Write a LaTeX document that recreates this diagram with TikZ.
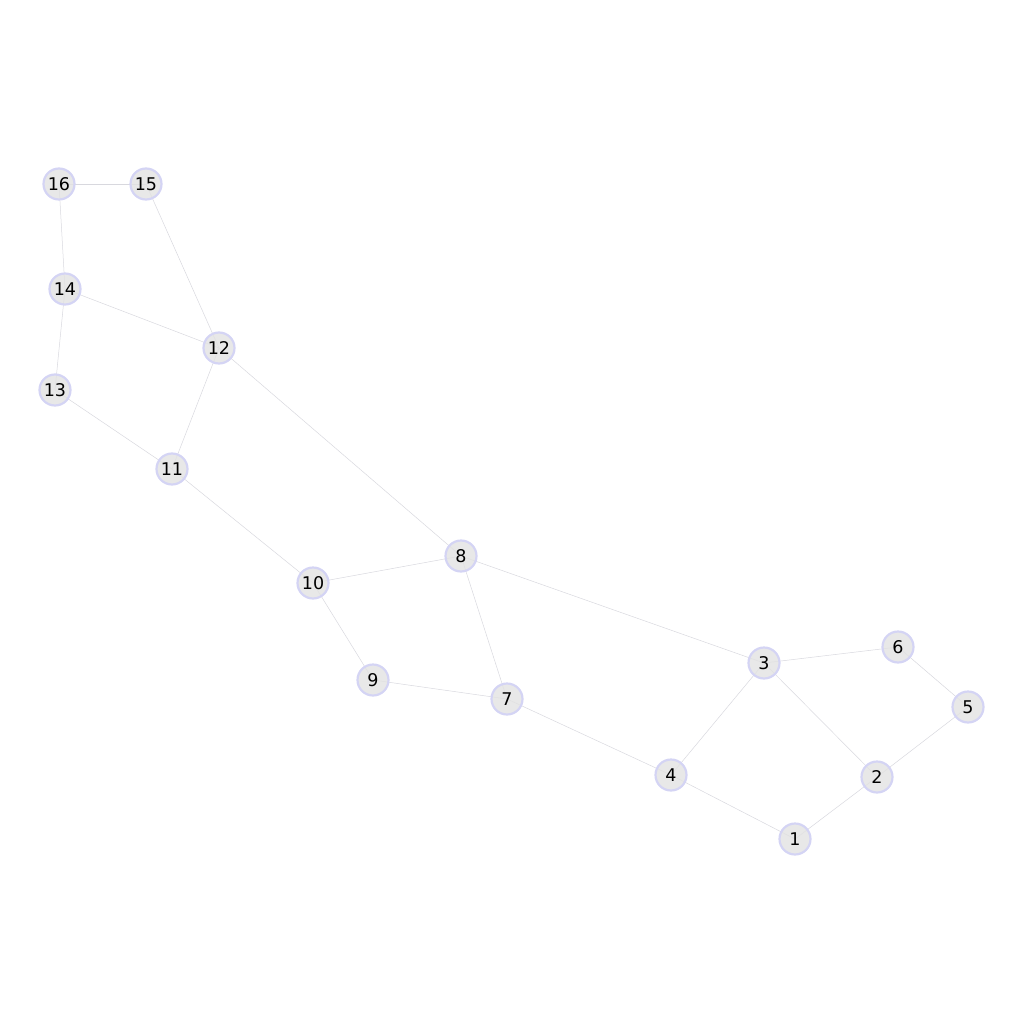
\documentclass[tikz,border=0pt]{standalone}
\usepackage{fontspec}
\setmainfont{DejaVu Sans}
\begin{document}
\begin{tikzpicture}[x=1pt,y=-1pt,
  vertex/.style={circle,minimum size=31pt,inner sep=0pt,fill=nodefill,fill opacity=0.8,text opacity=1,draw=nodeborder,line width=2.2pt,font=\fontsize{17.5}{17.5}\selectfont},
  link/.style={draw=edgecol,line width=0.5pt}]
\definecolor{nodefill}{HTML}{E2E2E2}
\definecolor{nodeborder}{HTML}{D4D4F4}
\definecolor{edgecol}{HTML}{D8D8DE}
\useasboundingbox (0,0) rectangle (1024,1024);
\coordinate (p1) at (795,839);
\coordinate (p2) at (877,777);
\coordinate (p3) at (764,663);
\coordinate (p4) at (671,775);
\coordinate (p5) at (968,707);
\coordinate (p6) at (898,647);
\coordinate (p7) at (507,699);
\coordinate (p8) at (461,556);
\coordinate (p9) at (373,680);
\coordinate (p10) at (313,583);
\coordinate (p11) at (172,469);
\coordinate (p12) at (219,348);
\coordinate (p13) at (55,390);
\coordinate (p14) at (65,289);
\coordinate (p15) at (146,184);
\coordinate (p16) at (59,184);
\foreach \a/\b in {16/15,16/14,15/12,14/12,14/13,13/11,12/11,12/8,11/10,10/8,10/9,9/7,8/7,8/3,7/4,4/1,4/3,3/6,3/2,6/5,5/2,2/1}
  \draw[link] (p\a) -- (p\b);
\foreach \i in {1,...,16}
  \node[vertex] (n\i) at (p\i) {\i};
\end{tikzpicture}
\end{document}
